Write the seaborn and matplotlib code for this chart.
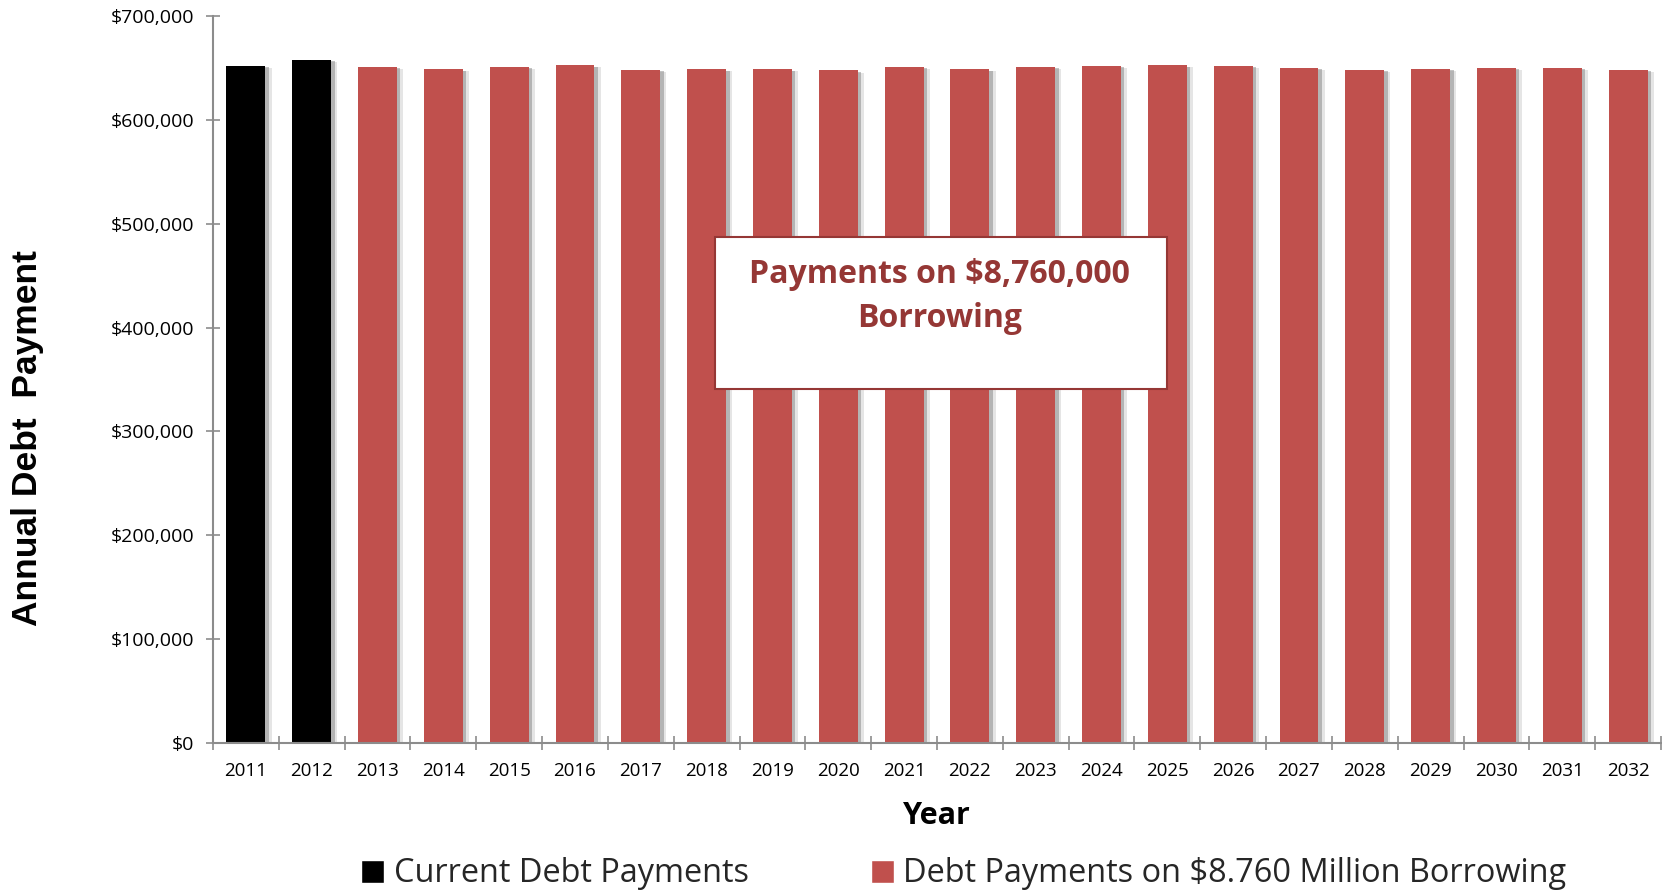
import matplotlib
matplotlib.use("Agg")
import matplotlib.pyplot as plt
import matplotlib.patheffects as pe
from matplotlib.patches import Rectangle
from matplotlib.ticker import FixedLocator, FuncFormatter
import seaborn as sns
import pandas as pd
import numpy as np

# Annual debt service, 2011-2032
years = [str(y) for y in range(2011, 2033)]
current_payments = [651800, 657600]
new_payments = [650900, 648600, 650900, 652500, 648300, 648600, 648600,
                647600, 651300, 648600, 650900, 651800, 652500, 651800,
                650000, 648000, 649300, 650000, 650000, 648000]
series_names = ["Current Debt Payments",
                "Debt Payments on $8.760 Million Borrowing"]
yticks = [0, 100000, 200000, 300000, 400000, 500000, 600000, 700000]

RED = "#C0504D"
DARK_RED = "#953735"
AXIS_GRAY = "#8C8C8C"

df = pd.DataFrame({
    "Year": years,
    "Payment": current_payments + new_payments,
    "Series": [series_names[0]] * len(current_payments)
              + [series_names[1]] * len(new_payments),
})

sns.set_theme(style="white")
plt.rcParams["font.family"] = ["Open Sans", "DejaVu Sans"]

fig = plt.figure(figsize=(16.62, 8.92), dpi=100)
ax = fig.add_axes([213 / 1662, 1 - 743 / 892, 1448 / 1662, 727 / 892])

sns.barplot(data=df, x="Year", y="Payment", hue="Series", dodge=False,
            width=0.59, palette={series_names[0]: "black", series_names[1]: RED},
            order=years, hue_order=series_names, ax=ax, legend=False,
            saturation=1)

# soft drop shadow to the right of each bar
shadow = [pe.SimplePatchShadow(offset=(4.5, -1.5), shadow_rgbFace="#9a9a9a", alpha=0.25),
          pe.SimplePatchShadow(offset=(2.5, -1.0), shadow_rgbFace="#7a7a7a", alpha=0.45),
          pe.Normal()]
for p in ax.patches:
    p.set_path_effects(shadow)
    p.set_edgecolor("none")

ax.set_xlim(-0.5, len(years) - 0.5)
ax.set_ylim(0, 700000)

# y axis
ax.yaxis.set_major_locator(FixedLocator(yticks))
ax.yaxis.set_major_formatter(FuncFormatter(lambda v, _: f"${v:,.0f}"))
ax.tick_params(axis="y", which="major", direction="inout", length=10, width=1.2,
               color=AXIS_GRAY, labelsize=14, pad=8.5, left=True, labelcolor="black")

# x axis: ticks between categories, labels at category centres
ax.xaxis.set_major_locator(FixedLocator(np.arange(-0.5, len(years), 1.0)))
ax.xaxis.set_minor_locator(FixedLocator(np.arange(len(years))))
ax.xaxis.set_major_formatter(FuncFormatter(lambda v, _: ""))
ax.xaxis.set_minor_formatter(FuncFormatter(lambda v, _: years[int(round(v))]))
ax.tick_params(axis="x", which="major", direction="inout", length=10, width=1.2,
               color=AXIS_GRAY, bottom=True)
ax.tick_params(axis="x", which="minor", length=0, labelsize=13.5, pad=14,
               bottom=True, labelcolor="black")

for side in ["top", "right"]:
    ax.spines[side].set_visible(False)
for side in ["left", "bottom"]:
    ax.spines[side].set_color(AXIS_GRAY)
    ax.spines[side].set_linewidth(1.5)

ax.set_xlabel("")
ax.set_ylabel("")

fig.text(937 / 1662, 1 - 816 / 892, "Year", ha="center", va="center",
         fontsize=22, fontweight="bold", color="black")
fig.text(28 / 1662, 1 - 438 / 892, "Annual Debt  Payment", rotation=90,
         ha="center", va="center", fontsize=25.5, fontweight="bold",
         family=["Liberation Sans", "DejaVu Sans"], color="black")

# callout box
box = Rectangle((0.347, 0.487), 0.312, 0.209, transform=ax.transAxes,
                facecolor="white", edgecolor=DARK_RED, linewidth=1.5, zorder=5)
ax.add_patch(box)
ax.text(0.5015, 0.614, "Payments on $8,760,000\nBorrowing", transform=ax.transAxes,
        ha="center", va="center", fontsize=23, fontweight="bold", color=DARK_RED,
        linespacing=1.45, zorder=6)

# legend
handles = [Rectangle((0, 0), 1, 1, facecolor="black"),
           Rectangle((0, 0), 1, 1, facecolor=RED)]
fig.legend(handles, series_names, loc="center", ncol=2,
           bbox_to_anchor=(964 / 1662, 1 - 874 / 892), frameon=False,
           fontsize=23.4, handlelength=0.7, handleheight=0.7,
           handletextpad=0.3, columnspacing=3.75, borderaxespad=0)

fig.savefig("out.png", dpi=100)
